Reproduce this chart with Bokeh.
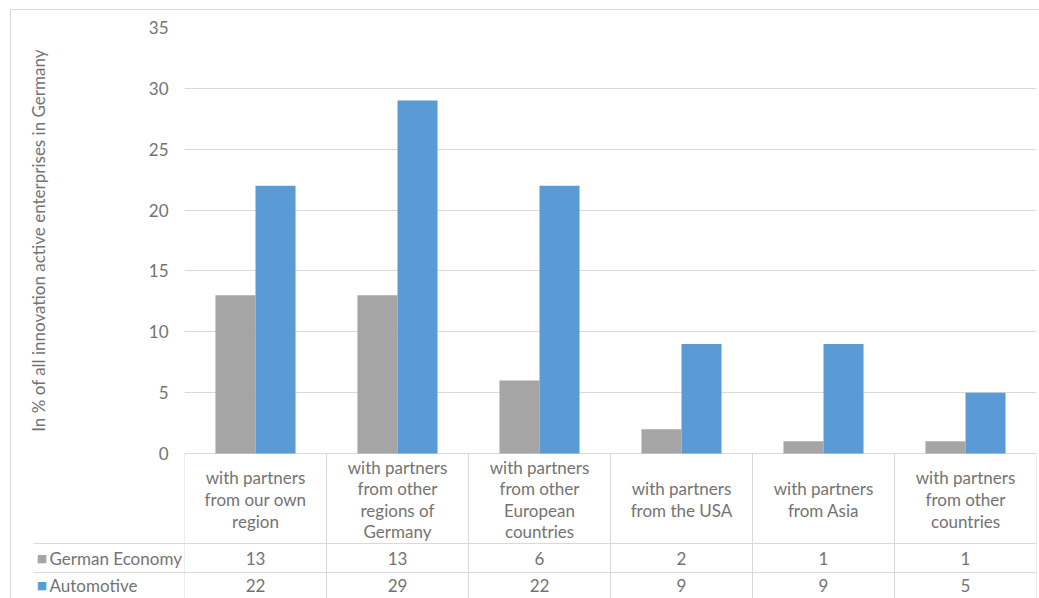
import math

from bokeh.plotting import figure
from bokeh.models import Range1d, FixedTicker, ColumnDataSource
from bokeh.transform import dodge
from bokeh.core.properties import value
from bokeh.embed import file_html
from bokeh.resources import INLINE

# ---- data -------------------------------------------------------------
categories = [
    "with partners from our own region",
    "with partners from other regions of Germany",
    "with partners from other European countries",
    "with partners from the USA",
    "with partners from Asia",
    "with partners from other countries",
]
category_labels = [
    "with partners\nfrom our own\nregion",
    "with partners\nfrom other\nregions of\nGermany",
    "with partners\nfrom other\nEuropean\ncountries",
    "with partners\nfrom the USA",
    "with partners\nfrom Asia",
    "with partners\nfrom other\ncountries",
]
series_names = ["German Economy", "Automotive"]
german_economy = [13, 13, 6, 2, 1, 1]
automotive = [22, 29, 22, 9, 9, 5]
y_ticks = [0, 5, 10, 15, 20, 25, 30, 35]
y_label = "In % of all innovation active enterprises in Germany"

# ---- styling / layout -------------------------------------------------
COLORS = ["#A5A5A5", "#5B9BD5"]
TEXT = "#737373"
LINE = "#d9d9d9"
FONT = value("Lato")
FS = "17px"

W, H = 1039, 598
FRAME_L, FRAME_R, FRAME_T = 184, 1036, 27
ZERO_PX = 453                     # screen row of the value axis baseline
HEADER_BOTTOM, ROW1_BOTTOM = 543, 572
Y_MAX = y_ticks[-1]
units_per_px = Y_MAX / (ZERO_PX - FRAME_T)
y_min = -(H - ZERO_PX) * units_per_px

BAR_W = 0.282
ncol = len(categories)
pos = list(range(ncol))

p = figure(
    width=W, height=H,
    x_range=Range1d(-0.5, ncol - 0.5),
    y_range=Range1d(y_min, Y_MAX),
    x_axis_location=None,
    toolbar_location=None,
    output_backend="svg",
    min_border_left=FRAME_L, min_border_right=W - FRAME_R,
    min_border_top=FRAME_T, min_border_bottom=0,
)
p.outline_line_color = None
p.background_fill_color = "white"
p.border_fill_color = "white"

# pixel-like ranges for the data table and the annotations around the plot
p.extra_x_ranges = {"px": Range1d(FRAME_L, FRAME_R)}
p.extra_y_ranges = {"px": Range1d(H, FRAME_T)}

# value axis
p.yaxis.ticker = FixedTicker(ticks=y_ticks)
p.yaxis.axis_line_color = None
p.yaxis.major_tick_line_color = None
p.yaxis.minor_tick_line_color = None
p.yaxis.major_label_standoff = 10
p.yaxis.major_label_text_font = "Lato"
p.yaxis.major_label_text_font_size = FS
p.yaxis.major_label_text_color = TEXT

p.xgrid.visible = False
p.ygrid.ticker = FixedTicker(ticks=y_ticks)
p.ygrid.grid_line_color = LINE

# bars
src = ColumnDataSource(dict(pos=pos, ge=german_economy, au=automotive))
p.vbar(x=dodge("pos", -BAR_W / 2), top="ge", bottom=0,
       width=BAR_W, source=src, fill_color=COLORS[0], line_color=None)
p.vbar(x=dodge("pos", BAR_W / 2), top="au", bottom=0,
       width=BAR_W, source=src, fill_color=COLORS[1], line_color=None)

# value-axis title, centred on the 0..35 span
title = p.text(x=[38], y=[(FRAME_T + ZERO_PX) / 2], text=[y_label], angle=math.pi / 2,
               text_font=FONT, text_font_size=FS, text_color=TEXT,
               text_align="center", text_baseline="middle",
               x_range_name="px", y_range_name="px")
title.level = "overlay"

# ---- data table -------------------------------------------------------
col_w = (FRAME_R - FRAME_L) / ncol
col_edges = [FRAME_L + k * col_w for k in range(ncol + 1)]
p.segment(x0=col_edges, x1=col_edges, y0=[ZERO_PX] * len(col_edges), y1=[H] * len(col_edges),
          x_range_name="px", y_range_name="px", line_color=LINE, line_width=1)

p.text(x=pos, y=[(ZERO_PX + HEADER_BOTTOM) / 2 + 1] * ncol, text=category_labels,
       text_font=FONT, text_font_size=FS, text_color=TEXT,
       text_align="center", text_baseline="middle", text_line_height=1.03,
       y_range_name="px")
row_mid = [(HEADER_BOTTOM + ROW1_BOTTOM) / 2, (ROW1_BOTTOM + H) / 2]
for vals, ym in zip([german_economy, automotive], row_mid):
    p.text(x=pos, y=[ym] * ncol, text=[str(v) for v in vals],
           text_font=FONT, text_font_size=FS, text_color=TEXT,
           text_align="center", text_baseline="middle", y_range_name="px")

# legend column and row rules (left of the plotting frame)
LEG_X0 = 33
rules = p.segment(x0=[LEG_X0, LEG_X0], x1=[FRAME_R, FRAME_R], y0=[HEADER_BOTTOM, ROW1_BOTTOM],
                  y1=[HEADER_BOTTOM, ROW1_BOTTOM], x_range_name="px", y_range_name="px",
                  line_color=LINE, line_width=1)
rules.level = "overlay"
keys = p.text(x=[41.5, 41.5], y=row_mid, text=["\u25a0", "\u25a0"], text_color=COLORS,
              text_font=value("DejaVu Sans"), text_font_size="11px",
              text_align="center", text_baseline="middle",
              x_range_name="px", y_range_name="px")
keys.level = "overlay"
names = p.text(x=[49, 49], y=row_mid, text=series_names, text_font=FONT,
               text_font_size=FS, text_color=TEXT, text_baseline="middle",
               x_range_name="px", y_range_name="px")
names.level = "overlay"

# chart area border
border = p.segment(x0=[10, 10], x1=[W, 10], y0=[9, 9], y1=[9, H],
                   x_range_name="px", y_range_name="px", line_color=LINE, line_width=1)
border.level = "overlay"

open("out.html", "w").write(file_html(p, INLINE))
